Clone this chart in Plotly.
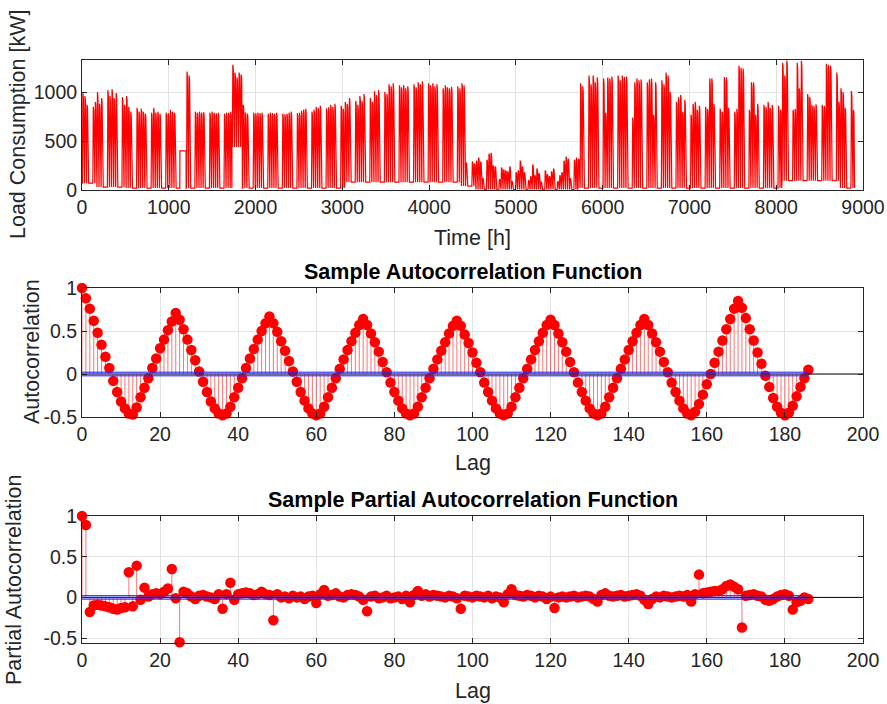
import plotly.graph_objects as go

# ---------------------------------------------------------------- data
# normalised intraday load profile (hour 0..23)
hour_shape = [0.0, 0.0, 0.0, 0.0, 0.0, 0.05, 0.40, 0.85, 0.96, 0.98, 1.00, 0.97,
              0.92, 0.95, 0.97, 0.96, 0.93, 0.85, 0.60, 0.30, 0.10, 0.03, 0.0, 0.0]

# daily peak load [kW], one row per week (0 = no daytime operation)
week_peaks = [
    [990, 960, 870, 0, 0, 850, 900],
    [1000, 880, 940, 0, 0, 1020, 960],
    [1030, 940, 990, 0, 0, 950, 870],
    [960, 850, 800, 0, 0, 840, 800],
    [830, 800, 780, 0, 0, 790, 840],
    [790, 800, 780, 0, 0, 790, 785],
    [820, 800, 790, 0, 0, 0, 0],
    [0, 1210, 1170, 0, 0, 800, 790],
    [800, 790, 795, 0, 0, 790, 800],
    [790, 785, 790, 0, 0, 780, 790],
    [790, 800, 1280, 1200, 1150, 1200, 1180],
    [870, 790, 780, 0, 0, 790, 785],
    [790, 785, 790, 0, 0, 780, 790],
    [785, 780, 790, 0, 0, 780, 775],
    [780, 790, 800, 0, 0, 785, 790],
    [810, 820, 830, 0, 0, 800, 820],
    [850, 840, 860, 0, 0, 835, 845],
    [870, 850, 880, 0, 0, 860, 830],
    [900, 880, 940, 0, 0, 910, 870],
    [960, 910, 980, 0, 0, 940, 900],
    [1010, 970, 1020, 0, 0, 1000, 980],
    [1080, 1060, 1090, 0, 0, 1070, 1050],
    [1070, 1040, 1060, 0, 0, 1080, 1050],
    [1100, 1080, 1110, 0, 0, 1090, 1070],
    [1090, 1060, 1080, 0, 0, 1040, 1070],
    [1050, 1040, 1055, 0, 0, 1060, 1040],
    [1090, 1070, 280, 0, 0, 290, 270],
    [300, 330, 290, 120, 0, 310, 370],
    [380, 250, 240, 0, 110, 230, 210],
    [200, 190, 240, 90, 0, 180, 200],
    [300, 240, 180, 0, 100, 140, 260],
    [150, 220, 170, 80, 0, 200, 160],
    [140, 190, 220, 0, 90, 150, 180],
    [300, 340, 320, 120, 0, 310, 330],
    [320, 1090, 1060, 0, 0, 1170, 1080],
    [1170, 1100, 1150, 0, 0, 1140, 790],
    [1150, 1140, 1160, 0, 0, 1170, 1120],
    [1170, 1155, 1160, 0, 0, 740, 1100],
    [1140, 1120, 1130, 0, 0, 1100, 1130],
    [1140, 770, 1100, 0, 0, 1120, 1080],
    [1200, 1170, 1000, 0, 0, 900, 950],
    [970, 800, 920, 0, 0, 770, 880],
    [900, 820, 860, 0, 0, 850, 830],
    [1140, 1140, 880, 0, 0, 830, 800],
    [1155, 1150, 840, 0, 0, 800, 830],
    [1270, 1250, 1240, 0, 0, 820, 1100],
    [1100, 770, 880, 0, 0, 870, 850],
    [900, 840, 870, 0, 0, 860, 820],
    [1300, 1170, 1325, 0, 0, 820, 830],
    [1300, 1040, 1320, 0, 0, 980, 950],
    [870, 860, 875, 0, 0, 870, 860],
    [1290, 1280, 1270, 0, 0, 1200, 900],
    [1040, 1000, 840, 0, 0, 1010, 820],
]

# night-time base load per week [kW]
week_base = [70, 30, 30, 20, 20, 20, 20, 20, 20, 20, 20, 20, 20, 20, 20, 20, 20, 20,
             80, 80, 80, 80, 80, 80, 80, 80, 40, 5, 5, 5, 5, 5, 5, 5, 20,
             20, 20, 20, 20, 20, 20, 20, 20, 20, 20, 20, 20, 20,
             95, 95, 95, 95, 20]

# days running at a continuous elevated level [kW]
floor_days = {47: 400, 48: 400, 49: 400, 72: 440, 73: 440, 74: 440, 75: 440, 76: 440}

# sample autocorrelation, lags 0..186
acf_values = [
    1.00, 0.88, 0.76, 0.62, 0.48, 0.34, 0.20, 0.07, -0.08, -0.21, -0.32, -0.40, -0.46,
    -0.47, -0.39, -0.27, -0.16, -0.05, 0.07, 0.18, 0.30, 0.40, 0.51, 0.61, 0.71,
    0.63, 0.52, 0.40, 0.28, 0.16, 0.03, -0.09, -0.21, -0.32, -0.40, -0.46, -0.48,
    -0.46, -0.38, -0.27, -0.16, -0.05, 0.07, 0.18, 0.29, 0.40, 0.50, 0.59, 0.67,
    0.59, 0.49, 0.38, 0.27, 0.15, 0.03, -0.09, -0.21, -0.31, -0.40, -0.46, -0.48,
    -0.46, -0.38, -0.27, -0.16, -0.05, 0.06, 0.17, 0.28, 0.38, 0.48, 0.57, 0.64,
    0.57, 0.47, 0.37, 0.26, 0.14, 0.02, -0.10, -0.21, -0.31, -0.40, -0.46, -0.48,
    -0.46, -0.38, -0.27, -0.16, -0.05, 0.06, 0.17, 0.27, 0.37, 0.47, 0.56, 0.62,
    0.56, 0.46, 0.36, 0.25, 0.13, 0.02, -0.10, -0.21, -0.31, -0.40, -0.46, -0.48,
    -0.46, -0.38, -0.27, -0.16, -0.05, 0.06, 0.17, 0.28, 0.38, 0.48, 0.57, 0.63,
    0.57, 0.47, 0.37, 0.26, 0.14, 0.02, -0.10, -0.21, -0.31, -0.40, -0.46, -0.48,
    -0.46, -0.38, -0.27, -0.16, -0.05, 0.06, 0.17, 0.28, 0.38, 0.48, 0.57, 0.64,
    0.57, 0.47, 0.37, 0.26, 0.14, 0.02, -0.10, -0.21, -0.31, -0.40, -0.46, -0.48,
    -0.44, -0.35, -0.24, -0.12, 0.00, 0.13, 0.26, 0.39, 0.52, 0.64, 0.76, 0.85,
    0.77, 0.65, 0.52, 0.39, 0.25, 0.12, -0.02, -0.15, -0.28, -0.38, -0.45, -0.48,
    -0.45, -0.37, -0.26, -0.15, -0.05, 0.05,
]

# sample partial autocorrelation, lags 0..186
pacf_values = [
    1.00, 0.89, -0.18, -0.10, -0.09, -0.10, -0.11, -0.12, -0.14, -0.15,
    -0.13, -0.12, 0.31, -0.11, 0.39, -0.03, 0.12, 0.01, 0.04, 0.05,
    0.04, 0.07, 0.11, 0.35, -0.01, -0.55, 0.07, 0.05, 0.01, -0.02,
    0.02, 0.03, 0.01, 0.00, -0.02, 0.04, -0.14, 0.04, 0.18, -0.03,
    0.04, 0.05, 0.06, 0.05, 0.03, 0.04, 0.07, 0.04, 0.03, -0.28,
    0.04, 0.00, 0.01, -0.01, 0.02, 0.00, 0.01, -0.02, 0.01, 0.02,
    -0.07, 0.04, 0.09, 0.02, 0.03, 0.05, 0.01, 0.00, 0.03, 0.04,
    0.03, 0.01, -0.03, -0.17, 0.01, 0.02, -0.01, 0.00, 0.02, -0.01,
    0.00, 0.01, -0.02, 0.02, -0.06, 0.03, 0.08, 0.02, 0.04, 0.01,
    0.03, 0.02, 0.01, 0.00, 0.02, 0.01, -0.01, -0.14, 0.02, 0.01,
    0.00, 0.02, 0.01, 0.00, 0.02, -0.01, 0.01, 0.00, -0.06, 0.04,
    0.10, 0.03, 0.02, 0.01, 0.03, 0.02, 0.00, 0.02, 0.01, -0.02,
    0.01, -0.13, 0.00, 0.01, 0.00, 0.01, 0.02, 0.00, 0.01, 0.02,
    0.01, -0.02, -0.05, 0.03, 0.05, 0.02, 0.01, 0.02, 0.03, 0.01,
    0.02, 0.03, 0.04, 0.02, -0.03, -0.08, -0.02, 0.01, 0.00, 0.02,
    0.01, 0.00, 0.01, 0.02, 0.01, 0.03, -0.05, 0.04, 0.28, 0.05,
    0.06, 0.07, 0.08, 0.08, 0.10, 0.14, 0.16, 0.13, 0.10, -0.37,
    0.02, 0.03, 0.04, 0.02, 0.01, -0.03, -0.04, -0.02, 0.01, 0.03,
    0.04, 0.02, -0.15, -0.06, -0.04, 0.00, -0.02,
]

conf_bound = 0.0214  # approx. 2/sqrt(N) significance band

# ---------------------------------------------------------------- hourly series
load = []
for w, row in enumerate(week_peaks):
    for d, peak in enumerate(row):
        day = w * 7 + d
        base = floor_days.get(day, week_base[w])
        for h in range(24):
            if peak > base:
                load.append(base + (peak - base) * hour_shape[h])
            else:
                load.append(base)
hours = list(range(len(load)))

# ---------------------------------------------------------------- styling
W, H = 887, 704
FONT = "Liberation Sans, Arial, Helvetica, sans-serif"
AX_COLOR = "#262626"
GRID = "#e3e3e3"
TICK_SIZE = 19.5
LABEL_SIZE = 21.5

x_dom = [82 / W, 863 / W]


def ydom(top_px, bottom_px):
    return [1 - bottom_px / H, 1 - top_px / H]


def stem_trace(values, xa, ya):
    sx, sy = [], []
    for lag, v in enumerate(values):
        sx += [lag, lag, None]
        sy += [0, v, None]
    return go.Scatter(x=sx, y=sy, mode="lines", xaxis=xa, yaxis=ya,
                      line=dict(color="rgba(255,0,0,0.55)", width=1),
                      hoverinfo="skip", showlegend=False)


def marker_trace(values, xa, ya):
    return go.Scatter(x=list(range(len(values))), y=values, mode="markers",
                      xaxis=xa, yaxis=ya, cliponaxis=False,
                      marker=dict(color="#ff0000", size=10.5, line=dict(width=0)),
                      showlegend=False)


def bound_traces(n, xa, ya):
    lo = go.Scatter(x=[0, n - 1], y=[-conf_bound] * 2, mode="lines",
                    xaxis=xa, yaxis=ya, line=dict(color="#2020ff", width=1),
                    hoverinfo="skip", showlegend=False)
    hi = go.Scatter(x=[0, n - 1], y=[conf_bound] * 2, mode="lines",
                    xaxis=xa, yaxis=ya, line=dict(color="#2020ff", width=1),
                    fill="tonexty", fillcolor="rgba(90,90,255,0.30)",
                    hoverinfo="skip", showlegend=False)
    return [lo, hi]


def zero_trace(xa, ya):
    return go.Scatter(x=[0, 200], y=[0, 0], mode="lines", xaxis=xa, yaxis=ya,
                      line=dict(color="#000000", width=1), hoverinfo="skip",
                      showlegend=False)


fig = go.Figure()

# load consumption
fig.add_trace(go.Scatter(x=hours, y=load, mode="lines", xaxis="x", yaxis="y",
                         line=dict(color="#ff0000", width=1.2), showlegend=False))

# ACF
fig.add_trace(stem_trace(acf_values, "x2", "y2"))
fig.add_trace(marker_trace(acf_values, "x2", "y2"))
fig.add_trace(zero_trace("x2", "y2"))
for t in bound_traces(len(acf_values), "x2", "y2"):
    fig.add_trace(t)

# PACF
fig.add_trace(stem_trace(pacf_values, "x3", "y3"))
fig.add_trace(marker_trace(pacf_values, "x3", "y3"))
fig.add_trace(zero_trace("x3", "y3"))
for t in bound_traces(len(pacf_values), "x3", "y3"):
    fig.add_trace(t)

axis_common = dict(showline=True, linecolor=AX_COLOR, linewidth=1, mirror="ticks",
                   ticks="inside", ticklen=5, tickcolor=AX_COLOR, showgrid=True,
                   gridcolor=GRID, gridwidth=1, zeroline=False, automargin=False,
                   tickfont=dict(family=FONT, size=TICK_SIZE, color=AX_COLOR))

lag_ticks = list(range(0, 201, 20))
fig.update_layout(
    template="none",
    width=W, height=H, margin=dict(l=0, r=0, t=0, b=0, pad=0),
    paper_bgcolor="white", plot_bgcolor="white",
    xaxis=dict(domain=x_dom, range=[0, 9000], anchor="y",
               tickvals=list(range(0, 9001, 1000)), **axis_common),
    yaxis=dict(domain=ydom(60.3, 190), range=[0, 1325], anchor="x",
               tickvals=[0, 500, 1000], **axis_common),
    xaxis2=dict(domain=x_dom, range=[0, 200], anchor="y2",
                tickvals=lag_ticks, **axis_common),
    yaxis2=dict(domain=ydom(288, 417), range=[-0.5, 1], anchor="x2",
                tickvals=[-0.5, 0, 0.5, 1], ticktext=["-0.5", "0", "0.5", "1"],
                **axis_common),
    xaxis3=dict(domain=x_dom, range=[0, 200], anchor="y3",
                tickvals=lag_ticks, **axis_common),
    yaxis3=dict(domain=ydom(516, 643), range=[-0.56, 1], anchor="x3",
                tickvals=[-0.5, 0, 0.5, 1], ticktext=["-0.5", "0", "0.5", "1"],
                **axis_common),
)


def label(text, x_px, y_px, size=LABEL_SIZE, angle=0, bold=False):
    fig.add_annotation(text=f"<b>{text}</b>" if bold else text,
                       x=x_px / W, y=1 - y_px / H, xref="paper", yref="paper",
                       xanchor="center", yanchor="middle", showarrow=False,
                       textangle=angle,
                       font=dict(family=FONT, size=size, color="#000000" if bold else AX_COLOR))


label("Time [h]", 472.5, 238)
label("Lag", 472.5, 463)
label("Lag", 472.5, 691)
label("Load Consumption [kW]", 18, 125, angle=-90)
label("Autocorrelation", 32, 352, angle=-90)
label("Partial Autocorrelation", 14, 580, angle=-90)
label("Sample Autocorrelation Function", 472.5, 272, bold=True)
label("Sample Partial Autocorrelation Function", 472.5, 500, bold=True)

fig.write_html("out.html")
